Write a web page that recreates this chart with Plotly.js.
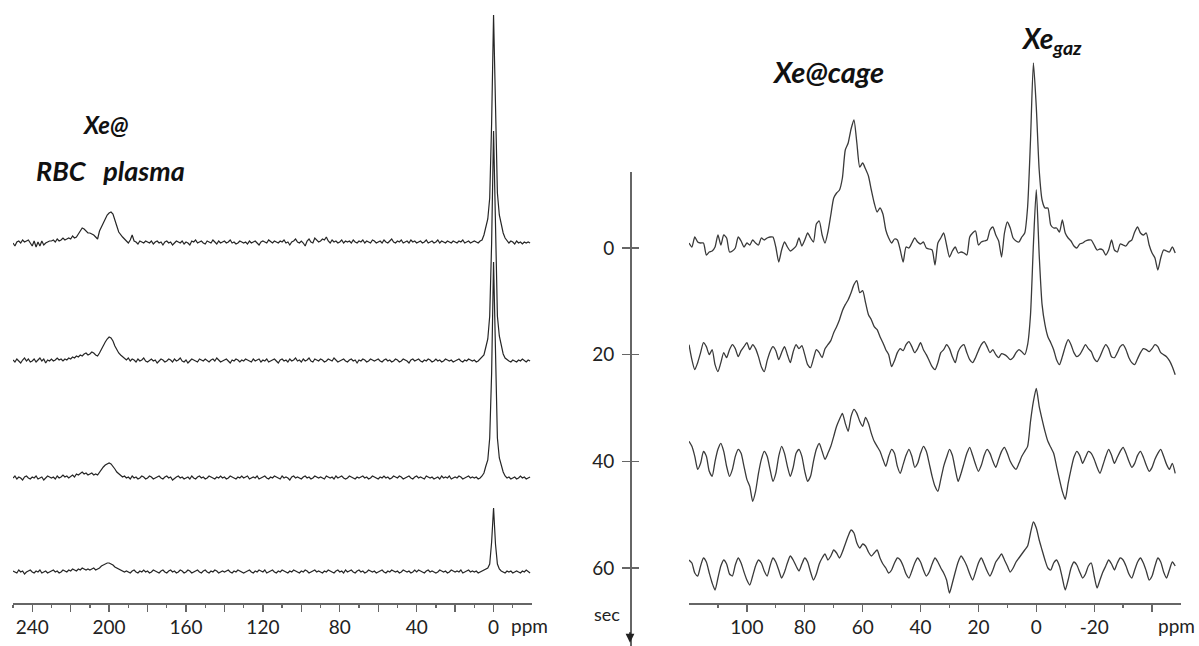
<!DOCTYPE html>
<html>
<head>
<meta charset="utf-8">
<script src="https://cdn.plot.ly/plotly-3.0.1.min.js"></script>
<style>html,body{margin:0;padding:0;background:#fff;}#chart{width:1199px;height:646px;}</style>
</head>
<body>
<div id="chart"></div>
<script>
// ---------------- DATA ----------------
// Acquisition times (sec) of the four stacked spectra
const times = [0, 20, 40, 60];

// Left panel: chemical shift axis, 1 ppm steps from 250 ppm downwards
const leftStartPpm = 250;
const leftTickVals = [240, 220, 200, 180, 160, 140, 120, 100, 80, 60, 40, 20, 0];
const leftTickText = ['240', '', '200', '', '160', '', '120', '', '80', '', '40', '', '0'];
const leftMinorVals = [250, 230, 210, 190, 170, 150, 130, 110, 90, 70, 50, 30, 10, -10];

// intensities (a.u.), one row = 10 ppm, first value of each row at the ppm in the comment
const left0s = [
  /*250*/ 0, -3, 1, 2, 0, 3, 1, 2, 3, 0,
  /*240*/ -3, 2, -4, 1, -3, 2, -2, 0, 1, 2,
  /*230*/ 2, 3, 1, 4, 2, 3, 5, 3, 4, 5,
  /*220*/ 4, 7, 5, 6, 9, 12, 15, 14, 12, 10,
  /*210*/ 10, 9, 8, 6, 4, 12, 17, 20, 24, 28,
  /*200*/ 30, 31, 29, 24, 17, 11, 8, 6, 4, 2,
  /*190*/ 0, 3, 8, 2, 1, -1, 2, 1, 0, 2,
  /*180*/ 1, 0, 2, -1, 1, 2, 0, 1, -2, 1,
  /*170*/ 2, 0, 1, -2, 0, 2, 1, 0, 2, -1,
  /*160*/ 1, 0, -2, 2, 1, 3, 0, 1, 2, 0,
  /*150*/ -1, 2, 1, 0, 3, 1, -1, 2, 0, 1,
  /*140*/ 2, 0, 1, 3, 0, 1, -1, 0, 2, 1,
  /*130*/ 0, 1, -1, 2, 0, 1, 2, 0, -2, 1,
  /*120*/ 2, 1, 0, 3, 1, 0, 2, 1, 0, 2,
  /*110*/ 1, 3, 0, 1, -2, 1, 2, 4, 1, 0,
  /*100*/ 2, 0, -3, 2, 4, 1, 0, 5, 3, 1,
  /* 90*/ 2, 4, 3, 6, 2, 0, 3, 1, 2, 0,
  /* 80*/ 1, 3, 0, 2, 1, 2, 0, 3, 1, 0,
  /* 70*/ 2, 1, 3, 0, 2, 1, 0, 3, 2, 0,
  /* 60*/ 1, 2, 0, 3, 1, 0, 2, 4, 1, 0,
  /* 50*/ 2, 1, 3, 0, 1, 2, 0, 3, 1, 2,
  /* 40*/ 0, 1, 2, 0, 1, 3, 0, 1, 2, 0,
  /* 30*/ 1, 3, 0, 2, 1, 0, 2, 1, 0, 2,
  /* 20*/ 1, 0, 2, 1, 3, 0, 1, 2, 0, 1,
  /* 10*/ 2, 1, 0, 2, 3, 8, 18, 24, 45, 120,
  /*  0*/ 228, 125, 50, 28, 18, 10, 5, 2, 0, 2,
  /*-10*/ 1, -1, 2, 0, 1, -1, 1, 0, 1, 0
];
const left20s = [
  /*250*/ 1, -1, 2, 0, -2, 1, 3, 0, 2, -1,
  /*240*/ 0, 2, -1, 1, 3, 0, 2, -2, 1, 0,
  /*230*/ 2, 0, 1, 3, 1, 2, 0, 2, 1, 3,
  /*220*/ 2, 4, 3, 5, 4, 6, 5, 7, 8, 6,
  /*210*/ 7, 9, 8, 6, 5, 8, 12, 16, 19, 22,
  /*200*/ 24, 23, 20, 15, 11, 8, 6, 4, 2, 1,
  /*190*/ 3, 0, 2, 1, -1, 2, 0, 1, 3, 0,
  /*180*/ -1, 1, 2, 0, 1, -2, 0, 2, 1, -1,
  /*170*/ 0, 2, 1, -1, 2, 0, 1, 3, 0, -1,
  /*160*/ 1, -2, 0, 2, 1, 0, -1, 2, 1, 0,
  /*150*/ 2, 0, -1, 1, 2, 0, 3, 1, -1, 0,
  /*140*/ 1, 2, 0, -2, 1, 0, 2, 1, -1, 1,
  /*130*/ 0, 2, 1, 0, -1, 2, 0, 1, 2, -1,
  /*120*/ 1, 0, 2, -1, 0, 1, 2, 0, -2, 1,
  /*110*/ 2, 0, 1, -1, 2, 0, 1, 3, 0, 1,
  /*100*/ -1, 2, 0, 1, 3, 0, -1, 2, 1, 0,
  /* 90*/ 2, 1, -1, 0, 2, 1, 0, 3, 1, -1,
  /* 80*/ 0, 1, 2, 0, -1, 1, 2, 0, 1, -2,
  /* 70*/ 1, 0, 2, 1, -1, 0, 2, 1, 0, 1,
  /* 60*/ 2, 0, -1, 1, 2, 0, 1, -1, 0, 2,
  /* 50*/ 1, -1, 0, 2, 1, 0, -2, 1, 2, 0,
  /* 40*/ 1, 2, 0, -1, 1, 0, 2, 1, -1, 0,
  /* 30*/ 2, 0, 1, -1, 0, 2, 1, 0, 1, -1,
  /* 20*/ 0, 1, 2, 0, -1, 1, 0, 2, 1, 0,
  /* 10*/ 1, -1, 0, 2, 3, 6, 14, 22, 45, 118,
  /*  0*/ 230, 120, 45, 25, 14, 7, 3, 1, 0, -1,
  /*-10*/ 1, 0, -1, 1, 0, 2, 0, -1, 1, 0
];
const left40s = [
  /*250*/ 0, 2, -1, 1, 0, -2, 1, 2, 0, -1,
  /*240*/ 1, 0, 2, -1, 0, 1, -2, 0, 2, 1,
  /*230*/ 0, 1, -1, 2, 0, 1, 3, 1, 2, 0,
  /*220*/ 2, 3, 1, 4, 3, 5, 6, 4, 5, 3,
  /*210*/ 4, 5, 3, 4, 3, 6, 9, 11, 13, 14,
  /*200*/ 15, 14, 12, 9, 6, 4, 3, 1, 2, 0,
  /*190*/ 1, -1, 2, 0, 1, -1, 0, 2, 1, -1,
  /*180*/ 0, 2, 1, -1, 0, 1, 2, 0, -1, 1,
  /*170*/ 2, 0, 1, -2, 0, 1, 2, 0, 1, -1,
  /*160*/ 0, 1, -1, 2, 0, -1, 1, 2, 0, 1,
  /*150*/ -1, 0, 2, 1, 0, -1, 1, 0, 2, 0,
  /*140*/ 1, -1, 0, 2, 1, 0, -1, 1, 0, 2,
  /*130*/ 0, 1, 2, -1, 0, 1, 0, 2, -1, 0,
  /*120*/ 1, 2, 0, -1, 1, 0, 2, 1, 0, -1,
  /*110*/ 2, 0, 1, 0, -2, 1, 2, 0, 1, 0,
  /*100*/ -1, 1, 2, 0, 1, -1, 0, 2, 1, 0,
  /* 90*/ 1, 0, -1, 2, 1, 0, 1, -1, 2, 0,
  /* 80*/ 1, 2, 0, -1, 0, 2, 1, 0, -1, 1,
  /* 70*/ 0, 1, 2, 0, 1, -1, 0, 2, 1, 0,
  /* 60*/ -1, 1, 0, 2, 0, 1, -1, 0, 2, 1,
  /* 50*/ 0, 2, 1, -1, 0, 1, 2, 0, -1, 1,
  /* 40*/ 2, 0, 1, 0, -1, 2, 1, 0, 1, -1,
  /* 30*/ 0, 1, -1, 2, 0, 1, 0, 2, -1, 0,
  /* 20*/ 1, 0, 2, 1, -1, 0, 1, 2, 0, 1,
  /* 10*/ 0, 1, -1, 0, 2, 5, 12, 18, 40, 105,
  /*  0*/ 216, 110, 40, 20, 12, 6, 2, 0, 1, -1,
  /*-10*/ 0, 1, -1, 0, 2, 0, 1, -1, 0, 1
];
const left60s = [
  /*250*/ 1, 0, -1, 2, 0, 1, -2, 0, 1, 2,
  /*240*/ 0, -1, 1, 0, 2, -1, 0, 1, -1, 0,
  /*230*/ 1, 2, 0, 1, -1, 0, 2, 1, 0, 2,
  /*220*/ 1, 3, 2, 1, 3, 2, 4, 3, 2, 3,
  /*210*/ 2, 3, 4, 2, 3, 4, 6, 7, 8, 9,
  /*200*/ 9, 8, 7, 5, 4, 3, 2, 1, 0, 1,
  /*190*/ 0, -1, 1, 2, 0, -1, 1, 0, 2, 0,
  /*180*/ 1, -1, 0, 2, 1, 0, -1, 1, 2, 0,
  /*170*/ -1, 1, 2, 0, 1, -1, 0, 2, 1, -1,
  /*160*/ 0, 2, 1, -1, 0, 1, 2, 0, -1, 1,
  /*150*/ 2, 0, -1, 1, 0, 2, 1, -1, 0, 1,
  /*140*/ 0, 1, 2, 0, -1, 1, 0, 2, 1, 0,
  /*130*/ -1, 0, 1, 2, 0, -1, 1, 0, 2, 1,
  /*120*/ 0, 2, -1, 0, 1, 2, 0, -1, 1, 0,
  /*110*/ 2, 1, 0, -1, 1, 0, 2, 1, 0, -1,
  /*100*/ 1, 0, 2, 1, -1, 0, 1, 2, 0, 1,
  /* 90*/ 0, -1, 1, 0, 2, 1, 0, -1, 1, 2,
  /* 80*/ 0, 1, -1, 2, 0, 1, 2, 0, -1, 1,
  /* 70*/ 2, 0, 1, -1, 0, 2, 1, 0, 1, -1,
  /* 60*/ 0, 1, 2, 0, -1, 1, 0, 2, 1, 0,
  /* 50*/ 1, -1, 0, 2, 1, 0, 1, -1, 0, 2,
  /* 40*/ 0, 2, 1, 0, -1, 1, 2, 0, 1, 0,
  /* 30*/ -1, 0, 2, 1, 0, 1, -1, 0, 2, 1,
  /* 20*/ 0, 1, 0, 2, -1, 0, 1, 2, 0, 1,
  /* 10*/ 0, 1, -1, 0, 1, 2, 3, 4, 8, 30,
  /*  0*/ 64, 28, 8, 3, 1, 0, -1, 1, 0, 1,
  /*-10*/ -1, 0, 1, 0, -1, 1, 0, 2, 0, -1
];

// Right panel: chemical shift axis, 1 ppm steps from 120 ppm downwards
const rightStartPpm = 120;
const rightTickVals = [100, 80, 60, 40, 20, 0, -20, -40];
const rightTickText = ['100', '80', '60', '40', '20', '0', '-20', ''];
const rightMinorVals = [110, 90, 70, 50, 30, 10, -10, -30];
const secTickVals = [0, 20, 40, 60];

const right0s = [
  /*120*/ 5, 1, 11, 6, 5, 5, -7, -4, -3, 1,
  /*110*/ 13, 3, 13, 10, -4, -3, 0, 11, 7, 1,
  /*100*/ 5, 3, 8, 5, 3, 10, 8, 10, 11, 11,
  /* 90*/ 1, -14, -2, 6, 1, -3, -1, 2, 10, 2,
  /* 80*/ 8, 15, 10, 6, 24, 27, 13, 5, 16, 33,
  /* 70*/ 50, 55, 58, 70, 98, 105, 119, 128, 105, 81,
  /* 60*/ 85, 79, 72, 58, 45, 36, 40, 34, 18, 10,
  /* 50*/ 5, 9, 8, -2, -14, 1, 0, 5, 10, 6,
  /* 40*/ 4, 6, 0, -1, -2, -17, 5, 10, 15, 3,
  /* 30*/ -9, -3, 1, -5, -4, -5, -7, 11, 15, 17,
  /* 20*/ 3, 6, 7, 8, 18, 21, 13, 7, -9, 15,
  /* 10*/ 26, 20, 10, 7, 6, 11, 15, 41, 108, 185,
  /*  0*/ 141, 78, 48, 40, 40, 23, 20, 20, 16, 28,
  /*-10*/ 15, 10, 7, 2, 0, 4, 5, 7, 8, 8,
  /*-20*/ 3, -2, -1, -2, -7, -2, 8, -2, -4, 4,
  /*-30*/ 3, 2, 6, 8, 16, 21, 15, 13, 15, 3,
  /*-40*/ -5, -10, -22, -10, -2, -3, -4, 1, -5
];
const right20s = [
  /*120*/ 10, -5, -15, -8, 2, 12, 8, 0, 5, -10,
  /*110*/ -17, -8, 2, -3, 5, 10, 6, -2, 4, 8,
  /*100*/ 12, 5, 10, 6, -2, -12, -17, -6, 3, 8,
  /* 90*/ 4, -5, 2, 8, 0, -8, 3, 10, 6, 9,
  /* 80*/ 0, -10, -13, -4, 5, 2, -3, 6, 10, 14,
  /* 70*/ 22, 28, 35, 44, 50, 55, 62, 70, 74, 62,
  /* 60*/ 64, 52, 40, 35, 28, 25, 18, 12, 5, 0,
  /* 50*/ -12, -6, 2, 6, 4, 10, 13, 8, 2, 6,
  /* 40*/ 12, 5, 0, -6, -12, -15, -8, 2, 5, 10,
  /* 30*/ 6, -2, -8, 3, 8, 10, 2, -5, -8, -3,
  /* 20*/ 4, 10, 13, 8, 2, 5, 0, -3, 1, 0,
  /* 10*/ -2, -5, -3, 2, 5, 3, 0, 10, 40, 110,
  /*  0*/ 165, 100, 50, 30, 18, 12, 5, -5, -10, -2,
  /*-10*/ 8, 15, 10, 2, -2, 0, 5, 10, 6, 3,
  /*-20*/ -4, -7, -2, 5, 10, 6, -2, -3, 2, 8,
  /*-30*/ 10, 5, -3, -8, -10, -4, 2, 6, 5, 3,
  /*-40*/ 6, 10, 8, 2, 0, -2, -6, -12, -20
];
const right40s = [
  /*120*/ 20, 15, 5, -8, -2, 10, 5, -10, -15, 0,
  /*110*/ 12, 18, 10, -5, -15, -8, 5, 12, 8, -5,
  /*100*/ -18, -25, -40, -30, -12, 2, 10, 5, -8, -20,
  /* 90*/ -12, 5, 15, 8, -5, -15, -6, 8, 12, 5,
  /* 80*/ -10, -20, -15, 0, 12, 18, 10, 2, 8, 15,
  /* 70*/ 25, 35, 42, 48, 38, 30, 45, 52, 48, 40,
  /* 60*/ 35, 44, 38, 28, 20, 15, 10, 2, -5, 5,
  /* 50*/ 12, 8, -5, -12, -3, 6, 12, 5, -6, -2,
  /* 40*/ 8, 15, 10, -2, -15, -25, -30, -18, -5, 4,
  /* 30*/ 12, 6, -8, -20, -12, -2, 8, 14, 6, -3,
  /* 20*/ -10, -4, 6, 12, 8, 0, -6, 2, 10, 14,
  /* 10*/ 8, 0, -5, -8, -2, 5, 10, 15, 40, 60,
  /*  0*/ 73, 55, 42, 30, 20, 14, 8, -5, -18, -30,
  /*-10*/ -38, -22, -8, 4, 10, 6, -2, 4, 10, 8,
  /*-20*/ 2, -6, -12, -4, 5, 12, 6, -2, 4, 10,
  /*-30*/ 14, 8, 0, -6, -2, 6, 10, 4, -4, -10,
  /*-40*/ -6, 2, 8, 12, 5, -3, -8, -2, -12
];
const right60s = [
  /*120*/ 8, 5, -5, -8, 2, 10, 6, -5, -15, -22,
  /*110*/ -10, 2, 8, 4, -6, -8, 3, 10, 5, -4,
  /*100*/ -12, -17, -8, 2, 8, 5, -3, -8, 2, 10,
  /* 90*/ 6, -2, -10, -4, 5, 12, 8, 2, -3, 4,
  /* 80*/ 10, 6, -4, -12, -6, 4, 10, 14, 8, 12,
  /* 70*/ 18, 15, 10, 16, 24, 32, 38, 35, 25, 20,
  /* 60*/ 24, 22, 16, 12, 15, 18, 10, 4, 0, -5,
  /* 50*/ -2, 5, 10, 8, 2, -6, -10, -3, 5, 10,
  /* 40*/ 6, -2, -8, -4, 4, 10, 6, 0, -5, -12,
  /* 30*/ -25, -15, -4, 6, 12, 8, 2, -6, -12, -4,
  /* 20*/ 5, 10, 4, -3, -8, -2, 6, 10, 14, 8,
  /* 10*/ 2, -4, 0, 6, 10, 14, 18, 22, 35, 46,
  /*  0*/ 40, 28, 18, 8, 0, -2, 5, 8, 2, -10,
  /*-10*/ -22, -12, 0, 6, 3, -4, -10, -6, 2, 5,
  /*-20*/ -8, -20, -12, -4, 2, 8, 4, -2, 5, 10,
  /*-30*/ 8, 2, -6, -10, -2, 6, 10, 5, -3, -12,
  /*-40*/ -8, 2, 10, 6, -4, -10, -2, 6, 2
];

const labelXeAt = 'Xe@';
const labelRBC = 'RBC\u00a0\u00a0 plasma';
const labelCage = 'Xe@cage';
const labelGaz = 'Xe<sub>gaz</sub>';

// ---------------- LAYOUT / STYLE ----------------
const W = 1199, H = 646;
const leftSeries = [left0s, left20s, left40s, left60s];
const rightSeries = [right0s, right20s, right40s, right60s];
const leftBase = [243, 361, 478, 572];   // vertical stacking of the left spectra (hidden axis units)
const secPerUnit = 0.1875;               // intensity-to-sec scale on the right stack

const traces = [];
leftSeries.forEach((s, k) => {
  traces.push({
    type: 'scatter', mode: 'lines', xaxis: 'x', yaxis: 'y',
    x: s.map((v, i) => leftStartPpm - i),
    y: s.map(v => leftBase[k] - v),
    line: {color: '#262626', width: 1.2},
    hoverinfo: 'skip', showlegend: false
  });
});
rightSeries.forEach((s, k) => {
  traces.push({
    type: 'scatter', mode: 'lines', xaxis: 'x2', yaxis: 'y3',
    x: s.map((v, i) => rightStartPpm - i),
    y: s.map(v => times[k] - v * secPerUnit),
    line: {color: '#3a3a3a', width: 1.3, shape: 'spline', smoothing: 0.6},
    hoverinfo: 'skip', showlegend: false
  });
});
// empty traces so the sec axis subplots exist
traces.push({type: 'scatter', x: [], y: [], xaxis: 'x2', yaxis: 'y2', showlegend: false});
traces.push({type: 'scatter', x: [], y: [], xaxis: 'x2', yaxis: 'y4', showlegend: false});

const tickFont = {family: 'Lato, "Open Sans", sans-serif', size: 19, color: '#222'};
const labelFont = sz => ({family: 'Lato, sans-serif', size: sz, color: '#111'});
const axisCol = '#666';
const xBase = {
  showgrid: false, zeroline: false, showline: true, linecolor: axisCol, linewidth: 1.5,
  ticks: 'outside', ticklen: 7, tickwidth: 1.3, tickcolor: axisCol, tickmode: 'array',
  tickfont: tickFont, fixedrange: true
};
const yDomBottom = 43 / H;

const layout = {
  width: W, height: H, margin: {l: 0, r: 0, t: 0, b: 0},
  paper_bgcolor: '#fff', plot_bgcolor: '#fff', showlegend: false,
  xaxis: Object.assign({}, xBase, {
    domain: [13 / W, 532 / W], range: [leftStartPpm, -20], anchor: 'y',
    tickvals: leftTickVals, ticktext: leftTickText,
    minor: {tickmode: 'array', tickvals: leftMinorVals, ticks: 'outside', ticklen: 3, tickwidth: 1.3, tickcolor: axisCol}
  }),
  yaxis: {domain: [yDomBottom, 1], range: [603, 0], visible: false, fixedrange: true},
  xaxis2: Object.assign({}, xBase, {
    domain: [689 / W, 1181 / W], range: [rightStartPpm, -50], anchor: 'y3',
    tickvals: rightTickVals, ticktext: rightTickText,
    minor: {tickmode: 'array', tickvals: rightMinorVals, ticks: 'outside', ticklen: 3, tickwidth: 1.3, tickcolor: axisCol}
  }),
  yaxis3: {domain: [yDomBottom, 1], range: [66.5625, -46.5], visible: false, fixedrange: true, anchor: 'x2'},
  yaxis2: {
    domain: [0, 474 / H], range: [74.625, -14.25], anchor: 'free', position: 630 / W, side: 'left',
    showgrid: false, zeroline: false, showline: true, linecolor: axisCol, linewidth: 1.5,
    tickmode: 'array', tickvals: secTickVals, ticks: 'outside', ticklen: 8, tickwidth: 1.3, tickcolor: axisCol,
    tickfont: tickFont, ticklabelstandoff: 4, fixedrange: true
  },
  yaxis4: {
    overlaying: 'y2', range: [74.625, -14.25], anchor: 'free', position: 630 / W, side: 'left',
    showgrid: false, zeroline: false, showline: false, showticklabels: false,
    tickmode: 'array', tickvals: secTickVals, ticks: 'inside', ticklen: 8, tickwidth: 1.3, tickcolor: axisCol,
    fixedrange: true
  },
  annotations: [
    {xref: 'paper', yref: 'paper', x: 105 / W, y: 1 - 124 / H, text: '<b><i>' + labelXeAt + '</i></b>', showarrow: false,
      xanchor: 'center', yanchor: 'middle', font: labelFont(24)},
    {xref: 'paper', yref: 'paper', x: 110 / W, y: 1 - 171 / H, text: '<b><i>' + labelRBC + '</i></b>', showarrow: false,
      xanchor: 'center', yanchor: 'middle', font: labelFont(27)},
    {xref: 'paper', yref: 'paper', x: 828 / W, y: 1 - 71 / H, text: '<b><i>' + labelCage + '</i></b>', showarrow: false,
      xanchor: 'center', yanchor: 'middle', font: labelFont(29)},
    {xref: 'paper', yref: 'paper', x: 1051 / W, y: 1 - 40 / H, text: '<b><i>' + labelGaz + '</i></b>', showarrow: false,
      xanchor: 'center', yanchor: 'middle', font: labelFont(28)},
    {xref: 'paper', yref: 'paper', x: 529 / W, y: 1 - 625 / H, text: 'ppm', showarrow: false,
      xanchor: 'center', yanchor: 'middle', font: tickFont},
    {xref: 'paper', yref: 'paper', x: 1176 / W, y: 1 - 625 / H, text: 'ppm', showarrow: false,
      xanchor: 'center', yanchor: 'middle', font: tickFont},
    {xref: 'paper', yref: 'paper', x: 607 / W, y: 1 - 614 / H, text: 'sec', showarrow: false,
      xanchor: 'center', yanchor: 'middle', font: {family: 'Lato, sans-serif', size: 18, color: '#222'}},
    {xref: 'paper', yref: 'y2', x: 630 / W, y: 74, text: '', showarrow: true, ax: 0, ay: -12,
      arrowhead: 2, arrowsize: 1.1, arrowwidth: 1.6, arrowcolor: '#222'}
  ]
};

Plotly.newPlot('chart', traces, layout, {staticPlot: true, displayModeBar: false});
</script>
</body>
</html>
